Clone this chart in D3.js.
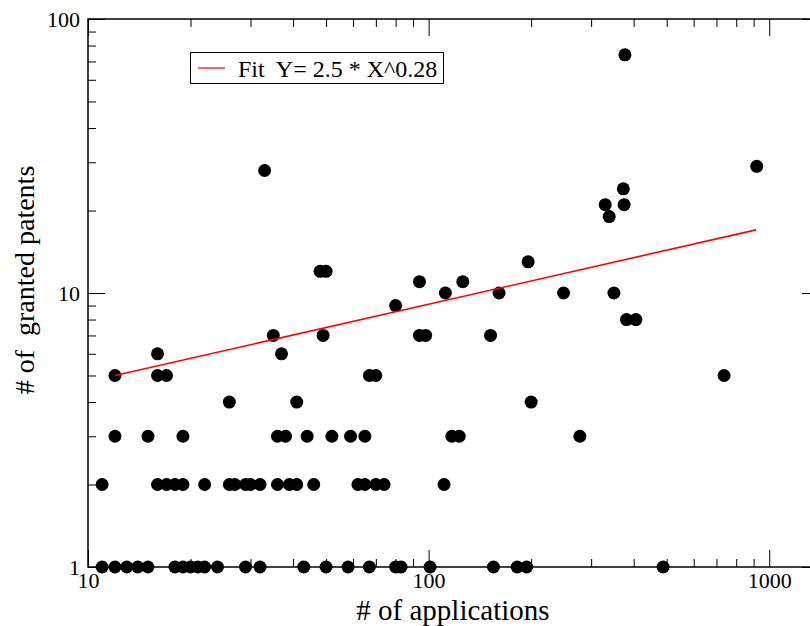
<!DOCTYPE html>
<html>
<head>
<meta charset="utf-8">
<script src="https://cdn.jsdelivr.net/npm/d3@7/dist/d3.min.js"></script>
<style>
  html, body { margin: 0; padding: 0; background: #fff; }
  svg text { font-family: "Liberation Serif", "Times New Roman", serif; }
</style>
</head>
<body>
<svg id="chart" width="810" height="626"></svg>
<script>
// ---- data ----
const applications = [
  11, 12, 13, 14, 15, 18, 19, 20, 21, 22, 24, 29, 32, 43, 50, 58, 67, 80, 83, 101, 155, 182, 194, 488,
  11, 16, 17, 18, 19, 22, 26, 27, 29, 30, 32, 36, 39, 41, 46, 62, 65, 70, 74, 111,
  12, 15, 19, 36, 38, 44, 52, 59, 65, 117, 123, 278,
  26, 41, 200,
  12, 16, 17, 67, 70, 737,
  16, 37,
  35, 49, 94, 98, 152,
  381, 406,
  80,
  112, 161, 249, 350,
  94, 126,
  48, 50,
  196,
  339,
  330, 375,
  373,
  33,
  919,
  377
];
const granted = [
  1, 1, 1, 1, 1, 1, 1, 1, 1, 1, 1, 1, 1, 1, 1, 1, 1, 1, 1, 1, 1, 1, 1, 1,
  2, 2, 2, 2, 2, 2, 2, 2, 2, 2, 2, 2, 2, 2, 2, 2, 2, 2, 2, 2,
  3, 3, 3, 3, 3, 3, 3, 3, 3, 3, 3, 3,
  4, 4, 4,
  5, 5, 5, 5, 5, 5,
  6, 6,
  7, 7, 7, 7, 7,
  8, 8,
  9,
  10, 10, 10, 10,
  11, 11,
  12, 12,
  13,
  19,
  21, 21,
  24,
  28,
  29,
  74
];
const fitX = [12, 915];
const fitY = [5.0, 17.0];
const xMajorTicks = [10, 100, 1000];
const xMinorTicks = [20, 30, 40, 50, 60, 70, 80, 90, 200, 300, 400, 500, 600, 700, 800, 900];
const yMajorTicks = [1, 10, 100];
const yMinorTicks = [2, 3, 4, 5, 6, 7, 8, 9, 20, 30, 40, 50, 60, 70, 80, 90];
const xDomain = [10, 1400];
const yDomain = [1, 100];
const legendLabel = "Fit  Y= 2.5 * X^0.28";
const xTitle = "# of applications";
const yTitle = "# of  granted patents";

// ---- layout ----
const SERIF = '"Liberation Serif", "Times New Roman", serif';
const L = 88, R = 819, T = 19, B = 567;
const svg = d3.select("#chart");
svg.append("rect").attr("width", 810).attr("height", 626).attr("fill", "#fff");

const x = d3.scaleLog().domain(xDomain).range([L, R]);
const y = d3.scaleLog().domain(yDomain).range([B, T]);

function styleAxis(g) {
  g.select(".domain").remove();
  g.attr("font-family", SERIF);
  g.selectAll(".tick line").attr("stroke", "#000").attr("stroke-width", 1);
  g.selectAll(".tick text").attr("fill", "#000").attr("font-family", SERIF);
}

// bottom axis
svg.append("g").attr("transform", `translate(0,${B})`)
  .call(d3.axisBottom(x).tickValues(xMajorTicks).tickSize(-17).tickPadding(5).tickFormat(d3.format("d")))
  .attr("font-size", 22).call(styleAxis);
svg.append("g").attr("transform", `translate(0,${B})`)
  .call(d3.axisBottom(x).tickValues(xMinorTicks).tickSize(-8).tickFormat(""))
  .call(styleAxis);
// top axis
svg.append("g").attr("transform", `translate(0,${T})`)
  .call(d3.axisTop(x).tickValues(xMajorTicks).tickSize(-17).tickFormat(""))
  .call(styleAxis);
svg.append("g").attr("transform", `translate(0,${T})`)
  .call(d3.axisTop(x).tickValues(xMinorTicks).tickSize(-8).tickFormat(""))
  .call(styleAxis);
// left axis
svg.append("g").attr("transform", `translate(${L},0)`)
  .call(d3.axisLeft(y).tickValues(yMajorTicks).tickSize(-17).tickPadding(8).tickFormat(d3.format("d")))
  .attr("font-size", 22).call(styleAxis);
svg.append("g").attr("transform", `translate(${L},0)`)
  .call(d3.axisLeft(y).tickValues(yMinorTicks).tickSize(-8).tickFormat(""))
  .call(styleAxis);
// right axis
svg.append("g").attr("transform", `translate(${R},0)`)
  .call(d3.axisRight(y).tickValues(yMajorTicks).tickSize(-17).tickFormat(""))
  .call(styleAxis);
svg.append("g").attr("transform", `translate(${R},0)`)
  .call(d3.axisRight(y).tickValues(yMinorTicks).tickSize(-8).tickFormat(""))
  .call(styleAxis);

// frame
svg.append("rect").attr("x", L).attr("y", T).attr("width", R - L).attr("height", B - T)
  .attr("fill", "none").attr("stroke", "#000").attr("stroke-width", 1.5);

// points
svg.append("g").selectAll("circle")
  .data(applications.map((a, i) => [a, granted[i]]))
  .join("circle")
  .attr("cx", d => x(d[0]))
  .attr("cy", d => y(d[1]))
  .attr("r", 6.5)
  .attr("fill", "#000");

// fit line
svg.append("path")
  .datum(fitX.map((v, i) => [v, fitY[i]]))
  .attr("d", d3.line().x(d => x(d[0])).y(d => y(d[1])))
  .attr("fill", "none").attr("stroke", "#ff0000").attr("stroke-width", 1.6);

// legend
const lg = svg.append("g");
lg.append("rect").attr("x", 190.5).attr("y", 52.5).attr("width", 253).attr("height", 31)
  .attr("fill", "#fff").attr("stroke", "#000").attr("stroke-width", 1);
lg.append("line").attr("x1", 198).attr("x2", 225).attr("y1", 68).attr("y2", 68)
  .attr("stroke", "#ff0000").attr("stroke-width", 1.2);
lg.append("text").attr("x", 238).attr("y", 77).attr("font-size", 24).attr("font-family", SERIF)
  .style("white-space", "pre").attr("xml:space", "preserve").text(legendLabel);

// axis titles
svg.append("text").attr("x", 453).attr("y", 620).attr("text-anchor", "middle")
  .attr("font-size", 29).attr("font-family", SERIF).text(xTitle);
svg.append("text").attr("transform", "translate(34,280) rotate(-90)").attr("text-anchor", "middle")
  .attr("font-size", 28).attr("font-family", SERIF)
  .style("white-space", "pre").attr("xml:space", "preserve").text(yTitle);
</script>
</body>
</html>
